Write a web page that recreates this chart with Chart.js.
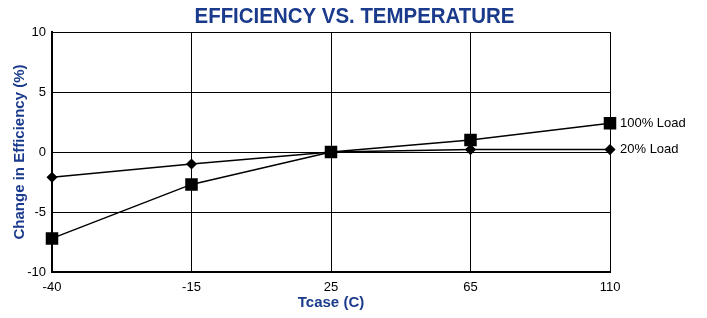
<!DOCTYPE html>
<html>
<head>
<meta charset="utf-8">
<script src="https://cdn.jsdelivr.net/npm/chart.js@4/dist/chart.umd.min.js"></script>
<style>
  html, body { margin: 0; padding: 0; background: #fff; }
  #wrap { width: 707px; height: 318px; }
</style>
</head>
<body>
<div id="wrap"><canvas id="effChart"></canvas></div>
<script>
const temps = ['-40', '-15', '25', '65', '110'];
const load100 = [-7.2, -2.7, 0, 1.0, 2.4];
const load20 = [-2.1, -1.0, 0, 0.2, 0.2];
const yTicks = [-10, -5, 0, 5, 10];
const chartTitle = 'EFFICIENCY VS. TEMPERATURE';

const blue = '#1a3a8c';
const font = 'Arial, "Liberation Sans", sans-serif';

// series names written just to the right of the last point
const endLabels = {
    id: 'endLabels',
    afterDatasetsDraw(chart) {
        const ctx = chart.ctx;
        ctx.save();
        ctx.font = '13px ' + font;
        ctx.fillStyle = '#000';
        ctx.textBaseline = 'middle';
        chart.data.datasets.forEach((ds, i) => {
            const pts = chart.getDatasetMeta(i).data;
            const last = pts[pts.length - 1];
            ctx.fillText(ds.label, last.x + 10, last.y);
        });
        ctx.restore();
    }
};

// condensed bold title centred on the whole canvas
const narrowTitle = {
    id: 'narrowTitle',
    afterDraw(chart) {
        const ctx = chart.ctx;
        ctx.save();
        ctx.font = 'bold 22px ' + font;
        ctx.fillStyle = blue;
        ctx.textBaseline = 'alphabetic';
        const w = ctx.measureText(chartTitle).width;
        const sx = 320 / w;
        ctx.translate(chart.width / 2 + 1, 23);
        ctx.scale(sx, 1);
        ctx.textAlign = 'center';
        ctx.fillText(chartTitle, 0, 0);
        ctx.restore();
    }
};

new Chart(document.getElementById('effChart'), {
    type: 'line',
    data: {
        labels: temps,
        datasets: [
            {
                label: '100% Load',
                data: load100,
                borderColor: '#000',
                backgroundColor: '#000',
                borderWidth: 1.5,
                pointStyle: 'rect',
                pointRadius: 7.8,
                pointHoverRadius: 7.8,
                tension: 0,
            },
            {
                label: '20% Load',
                data: load20,
                borderColor: '#000',
                backgroundColor: '#000',
                borderWidth: 1.5,
                pointStyle: 'rectRot',
                pointRadius: 4.5,
                pointHoverRadius: 4.5,
                tension: 0,
            },
        ],
    },
    options: {
        responsive: true,
        maintainAspectRatio: false,
        animation: false,
        layout: {
            padding: { left: 0, right: 97, top: 32, bottom: 0 },
        },
        plugins: {
            legend: { display: false },
            tooltip: { enabled: false },
        },
        scales: {
            x: {
                grid: { color: '#000', lineWidth: 1, drawTicks: false },
                border: { color: '#000', width: 2 },
                offset: false,
                ticks: { color: '#000', font: { family: font, size: 13 }, padding: 8, maxRotation: 0 },
                title: {
                    display: true,
                    text: 'Tcase (C)',
                    color: blue,
                    font: { family: font, size: 15, weight: 'bold' },
                    padding: { top: 0, bottom: 6 },
                },
                afterFit(scale) { scale.height = 46; },
            },
            y: {
                min: -10,
                max: 10,
                afterBuildTicks(scale) { scale.ticks = yTicks.map(v => ({ value: v })); },
                grid: { color: '#000', lineWidth: 1, drawTicks: false },
                border: { color: '#000', width: 2 },
                ticks: { color: '#000', font: { family: font, size: 13 }, padding: 6 },
                title: {
                    display: true,
                    text: 'Change in Efficiency (%)',
                    color: blue,
                    font: { family: font, size: 15, weight: 'bold' },
                    padding: { top: 11, bottom: 0 },
                },
                afterFit(scale) { scale.width = 52; },
            },
        },
    },
    plugins: [endLabels, narrowTitle],
});
</script>
</body>
</html>
